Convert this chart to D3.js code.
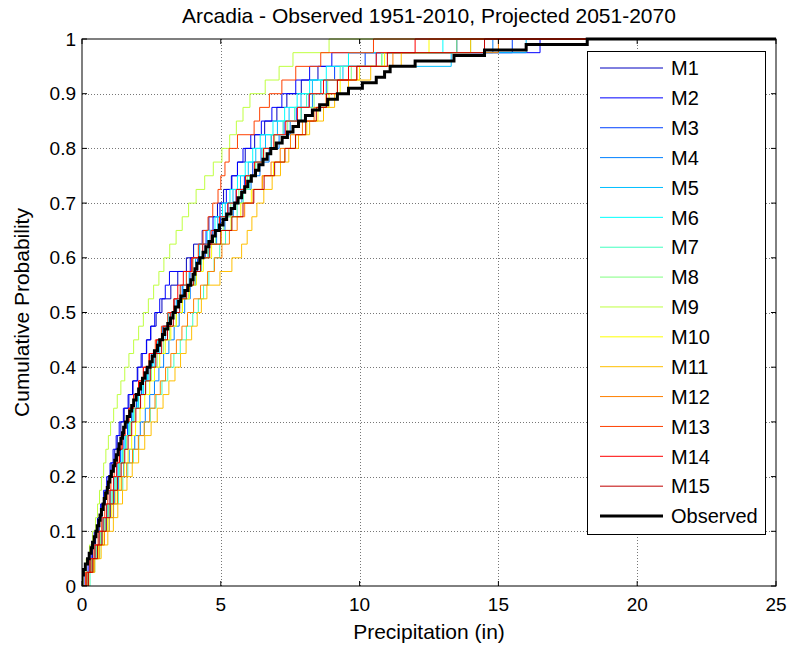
<!DOCTYPE html>
<html>
<head>
<meta charset="utf-8">
<script src="https://cdn.jsdelivr.net/npm/d3@7"></script>
<style>
  body { margin: 0; background: #fff; }
  text { font-family: "Liberation Sans", Arial, sans-serif; fill: #000; }
</style>
</head>
<body>
<svg id="chart" width="790" height="645"></svg>
<script>
// monthly precipitation samples (in), sorted
var m1 = [0.16,0.27,0.38,0.49,0.62,0.71,0.84,0.94,1.05,1.18,1.27,1.40,1.52,1.69,1.82,1.99,2.13,2.32,2.48,2.67,2.88,3.2,3.45,3.76,4.02,4.33,4.57,4.88,5.1,5.38,5.6,5.88,6.22,6.58,7.02,7.38,7.9,8.5,9.6,13.5];
var m2 = [0.11,0.22,0.33,0.44,0.56,0.67,0.78,0.89,1.01,1.12,1.23,1.34,1.49,1.66,1.84,2.01,2.17,2.33,2.47,2.62,2.8,3.0,3.15,3.9,4.22,4.47,4.72,4.97,5.2,5.4,5.6,5.8,6.08,6.46,6.84,7.2,7.7,8.2,9.0,16.5];
var m3 = [0.18,0.32,0.47,0.62,0.76,0.89,1.01,1.14,1.26,1.39,1.51,1.64,1.79,1.96,2.14,2.31,2.5,2.7,2.9,3.1,3.34,3.61,3.89,4.16,4.44,4.71,4.99,5.26,5.55,5.85,6.15,6.45,6.82,7.28,7.72,8.18,8.6,9.1,10.2,15.5];
var m4 = [0.23,0.39,0.56,0.72,0.88,1.03,1.18,1.32,1.5,1.7,1.9,2.1,2.28,2.44,2.61,2.77,2.94,3.13,3.32,3.5,3.7,3.9,4.1,4.3,4.55,4.85,5.15,5.45,5.76,6.09,6.41,6.74,7.1,7.5,7.9,8.3,8.8,9.6,10.6,14.8];
var m5 = [0.18,0.34,0.51,0.67,0.82,0.96,1.09,1.23,1.36,1.47,1.58,1.69,1.84,2.03,2.22,2.41,2.6,2.8,3.0,3.2,3.41,3.64,3.86,4.09,4.34,4.61,4.89,5.16,5.44,5.71,5.99,6.26,6.61,7.04,7.46,7.89,8.3,9.4,13.3,16.0];
var m6 = [0.17,0.32,0.47,0.62,0.77,0.91,1.04,1.18,1.31,1.44,1.56,1.69,1.84,2.01,2.19,2.36,2.54,2.73,2.92,3.11,3.31,3.54,3.76,3.99,4.24,4.51,4.79,5.06,5.33,5.6,5.88,6.15,6.42,6.88,7.3,7.75,8.2,8.8,9.6,13.0];
var m7 = [0.29,0.46,0.64,0.81,0.98,1.14,1.31,1.47,1.65,1.85,2.05,2.25,2.46,2.67,2.88,3.09,3.31,3.54,3.76,3.99,4.19,4.38,4.57,4.76,4.96,5.17,5.38,5.59,5.81,6.04,6.26,6.49,6.81,7.24,7.66,8.09,8.6,9.3,10.8,14.0];
var m8 = [0.18,0.34,0.51,0.67,0.82,0.96,1.09,1.23,1.36,1.49,1.61,1.74,1.9,2.1,2.3,2.5,2.71,2.94,3.16,3.39,3.61,3.84,4.06,4.29,4.54,4.81,5.09,5.36,5.65,5.95,6.25,6.55,6.94,7.41,7.89,8.36,8.85,9.7,10.8,13.5];
var m9 = [0.04,0.15,0.27,0.38,0.49,0.56,0.63,0.70,0.78,0.86,0.95,1.03,1.14,1.27,1.40,1.54,1.69,1.86,2.04,2.21,2.39,2.58,2.77,2.95,3.16,3.39,3.61,3.84,4.11,4.42,4.73,5.04,5.32,5.56,5.8,6.05,6.6,7.1,7.6,8.9];
var m10 = [0.24,0.41,0.59,0.76,0.92,1.07,1.22,1.37,1.52,1.66,1.79,1.93,2.09,2.26,2.44,2.61,2.8,3.0,3.2,3.4,3.62,3.87,4.12,4.37,4.67,5.02,5.37,5.72,6.1,6.5,6.9,7.3,7.7,8.1,8.5,8.9,9.3,10.0,10.9,12.5];
var m11 = [0.22,0.46,0.69,0.93,1.13,1.29,1.46,1.62,1.81,2.04,2.26,2.49,2.71,2.92,3.13,3.35,3.55,3.75,3.95,4.15,4.3,4.5,4.97,5.4,5.75,5.95,6.12,6.3,6.55,6.85,7.15,7.45,7.8,8.2,8.7,9.1,9.6,10.4,11.5,14.0];
var m12 = [0.24,0.43,0.62,0.81,0.98,1.13,1.28,1.43,1.61,1.82,2.03,2.24,2.44,2.63,2.82,3.01,3.2,3.4,3.6,3.8,4.02,4.27,4.52,4.77,5.04,5.31,5.59,5.86,6.16,6.49,6.81,7.14,7.51,7.94,8.36,8.79,9.2,9.9,11.2,15.0];
var m13 = [0.13,0.28,0.43,0.58,0.71,0.82,0.93,1.04,1.16,1.29,1.41,1.54,1.69,1.86,2.04,2.21,2.41,2.64,2.86,3.09,3.31,3.54,3.76,3.99,4.19,4.36,4.54,4.71,4.9,5.0,5.15,5.3,5.6,6.2,6.4,6.75,7.2,7.7,8.6,10.5];
var m14 = [0.17,0.32,0.47,0.62,0.76,0.89,1.01,1.14,1.25,1.35,1.45,1.55,1.69,1.86,2.04,2.21,2.43,2.68,2.93,3.18,3.31,3.45,3.65,3.95,4.35,4.65,4.95,5.25,5.56,5.89,6.21,6.54,6.91,7.34,7.76,8.19,8.7,9.6,10.6,12.0];
var m15 = [0.23,0.39,0.56,0.72,0.87,1.01,1.14,1.28,1.41,1.54,1.66,1.79,1.94,2.11,2.29,2.46,2.66,2.87,3.08,3.29,3.52,3.77,4.02,4.27,4.6,5.0,5.4,5.8,6.19,6.56,6.94,7.31,7.69,8.06,8.44,8.81,9.2,9.9,11.0,14.5];
var observed = [0,0,0.05,0.12,0.2,0.26,0.33,0.38,0.44,0.5,
  0.55,0.61,0.65,0.7,0.76,0.8,0.85,0.91,0.95,1.0,
  1.06,1.13,1.18,1.24,1.3,1.34,1.4,1.46,1.5,1.56,
  1.63,1.72,1.79,1.86,1.95,2.04,2.11,2.18,2.27,2.35,
  2.45,2.53,2.61,2.72,2.8,2.9,2.98,3.09,3.19,3.28,
  3.36,3.48,3.56,3.7,3.82,3.92,4.0,4.07,4.14,4.24,
  4.36,4.46,4.57,4.7,4.8,4.95,5.08,5.21,5.37,5.5,
  5.62,5.75,5.86,5.97,6.1,6.25,6.37,6.52,6.67,6.8,
  7.0,7.21,7.4,7.6,7.8,8.05,8.3,8.56,8.85,9.2,
  9.6,10.1,10.6,10.9,11.1,12.0,13.4,14.5,16.0,18.2];

var seriesNames = ['M1','M2','M3','M4','M5','M6','M7','M8','M9','M10','M11','M12','M13','M14','M15','Observed'];
var seriesData = [m1,m2,m3,m4,m5,m6,m7,m8,m9,m10,m11,m12,m13,m14,m15,observed];
// jet(15) colormap, then black for observed
var seriesColors = ['#0000bf','#0000ff','#0040ff','#0080ff','#00bfff','#00ffff','#40ffbf','#80ff80',
  '#bfff40','#ffff00','#ffbf00','#ff8000','#ff4000','#ff0000','#bf0000','#000000'];

var xTicks = [0,5,10,15,20,25];
var yTicks = [0,0.1,0.2,0.3,0.4,0.5,0.6,0.7,0.8,0.9,1];

var titleText = 'Arcadia - Observed 1951-2010, Projected 2051-2070';
var xLabel = 'Precipitation (in)';
var yLabel = 'Cumulative Probability';

var margin = {left: 82, right: 14, top: 39, bottom: 59};
var W = 790, H = 645;
var svg = d3.select('#chart');

var x = d3.scaleLinear().domain([0, 25]).range([margin.left, W - margin.right]);
var y = d3.scaleLinear().domain([0, 1]).range([H - margin.bottom, margin.top]);

svg.append('rect').attr('width', W).attr('height', H).attr('fill', '#fff');

// grid
var grid = svg.append('g').attr('stroke', '#777').attr('stroke-dasharray', '1,2').attr('stroke-width', 1);
xTicks.slice(1, -1).forEach(function(t) {
  grid.append('line').attr('x1', Math.round(x(t)) + 0.5).attr('x2', Math.round(x(t)) + 0.5)
    .attr('y1', y(0)).attr('y2', y(1));
});
yTicks.slice(1, -1).forEach(function(t) {
  grid.append('line').attr('y1', Math.round(y(t)) + 0.5).attr('y2', Math.round(y(t)) + 0.5)
    .attr('x1', x(0)).attr('x2', x(25));
});

svg.append('clipPath').attr('id', 'clip').append('rect')
  .attr('x', x(0)).attr('y', y(1) - 2).attr('width', x(25) - x(0)).attr('height', y(0) - y(1) + 2);

// empirical cdf as stairs, extended to the axis limits
function ecdfPoints(vals) {
  var s = d3.sort(vals);
  var n = s.length;
  var pts = [[-1, 0]];
  s.forEach(function(v, i) { pts.push([v, (i + 1) / n]); });
  pts.push([26, 1]);
  return pts;
}

var line = d3.line()
  .x(function(d) { return x(d[0]); })
  .y(function(d) { return y(d[1]); })
  .curve(d3.curveStepAfter);

var plot = svg.append('g').attr('clip-path', 'url(#clip)');
seriesData.forEach(function(vals, i) {
  plot.append('path')
    .attr('d', line(ecdfPoints(vals)))
    .attr('fill', 'none')
    .attr('stroke', seriesColors[i])
    .attr('stroke-width', i === 15 ? 3 : 1)
    .attr('stroke-linejoin', 'miter');
});

// axes box with inward ticks
var axes = svg.append('g');
axes.append('rect').attr('x', x(0)).attr('y', y(1)).attr('width', x(25) - x(0)).attr('height', y(0) - y(1))
  .attr('fill', 'none').attr('stroke', '#000').attr('stroke-width', 1);

var tickLen = 5;
xTicks.forEach(function(t) {
  axes.append('line').attr('x1', x(t)).attr('x2', x(t)).attr('y1', y(0)).attr('y2', y(0) - tickLen).attr('stroke', '#000');
  axes.append('line').attr('x1', x(t)).attr('x2', x(t)).attr('y1', y(1)).attr('y2', y(1) + tickLen).attr('stroke', '#000');
  axes.append('text').attr('x', x(t)).attr('y', y(0) + 25).attr('text-anchor', 'middle')
    .style('font-size', '19px').text(t);
});
yTicks.forEach(function(t) {
  axes.append('line').attr('y1', y(t)).attr('y2', y(t)).attr('x1', x(0)).attr('x2', x(0) + tickLen).attr('stroke', '#000');
  axes.append('line').attr('y1', y(t)).attr('y2', y(t)).attr('x1', x(25)).attr('x2', x(25) - tickLen).attr('stroke', '#000');
  axes.append('text').attr('x', x(0) - 6).attr('y', y(t)).attr('dy', '0.35em').attr('text-anchor', 'end')
    .style('font-size', '19px').text(d3.format('~g')(t));
});

svg.append('text').attr('x', (x(0) + x(25)) / 2).attr('y', 23).attr('text-anchor', 'middle')
  .style('font-size', '21px').text(titleText);
svg.append('text').attr('x', (x(0) + x(25)) / 2).attr('y', 639).attr('text-anchor', 'middle')
  .style('font-size', '21px').text(xLabel);
svg.append('text').attr('transform', 'translate(29,' + ((y(0) + y(1)) / 2) + ') rotate(-90)')
  .attr('text-anchor', 'middle').style('font-size', '21px').text(yLabel);

// legend
var lg = svg.append('g');
lg.append('rect').attr('x', 587.5).attr('y', 51.5).attr('width', 178).attr('height', 483)
  .attr('fill', '#fff').attr('stroke', '#000');
seriesNames.forEach(function(name, i) {
  var ly = 68 + i * 29.87;
  lg.append('line').attr('x1', 600).attr('x2', 663).attr('y1', ly).attr('y2', ly)
    .attr('stroke', seriesColors[i]).attr('stroke-width', i === 15 ? 3 : 1);
  lg.append('text').attr('x', 671).attr('y', ly).attr('dy', '0.36em')
    .style('font-size', '20px').text(name);
});
</script>
</body>
</html>
